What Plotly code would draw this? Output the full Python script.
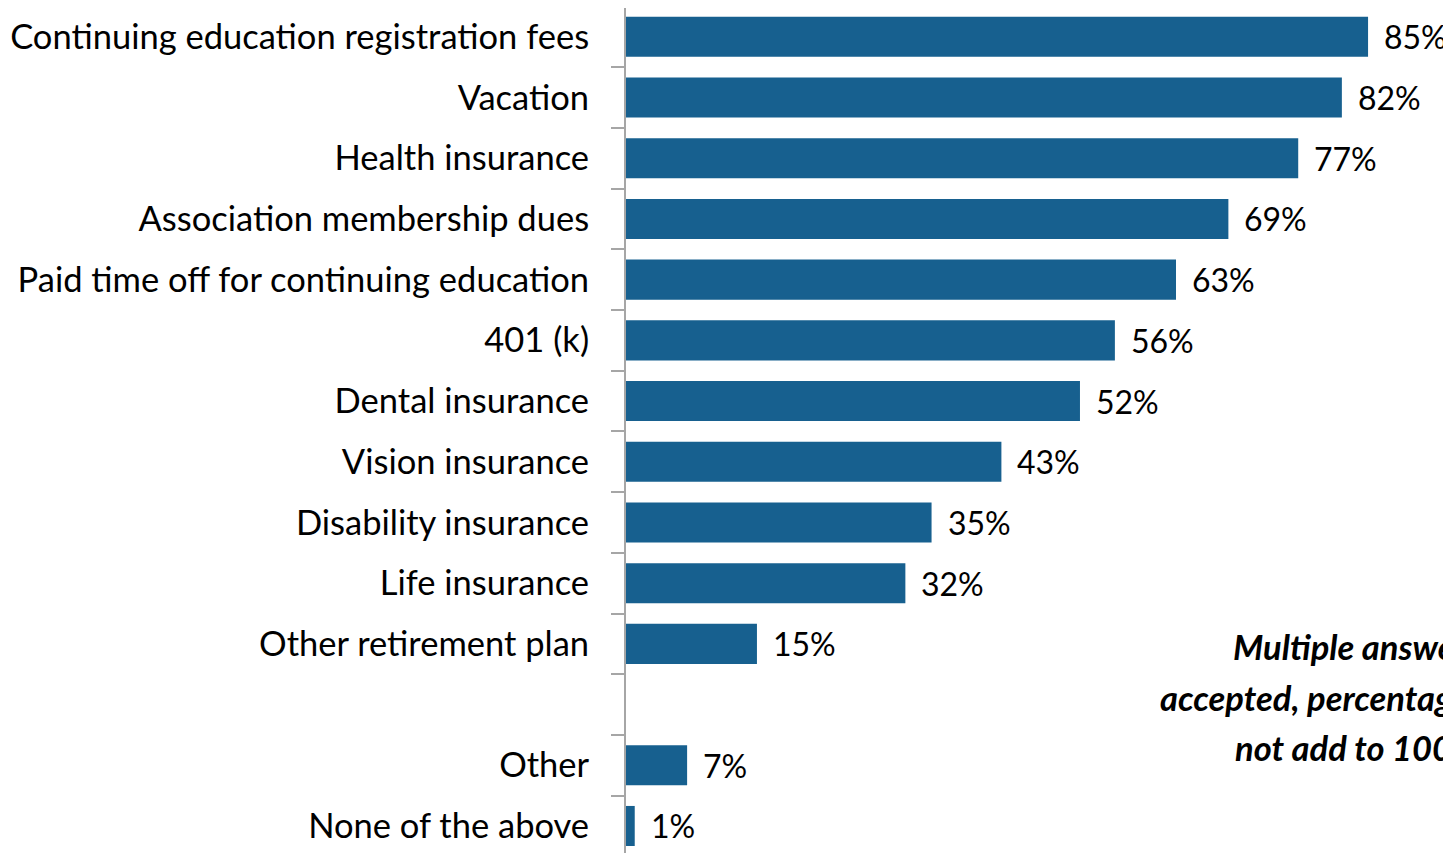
import plotly.graph_objects as go

categories = [
    "Continuing education registration fees",
    "Vacation",
    "Health insurance",
    "Association membership dues",
    "Paid time off for continuing education",
    "401 (k)",
    "Dental insurance",
    "Vision insurance",
    "Disability insurance",
    "Life insurance",
    "Other retirement plan",
    " ",
    "Other",
    "None of the above",
]
values = [85, 82, 77, 69, 63, 56, 52, 43, 35, 32, 15, None, 7, 1]
value_labels = ["85%", "82%", "77%", "69%", "63%", "56%", "52%", "43%", "35%", "32%", "15%", "", "7%", "1%"]
note_lines = ["Multiple answers", "accepted, percentages may", "not add to 100%"]
note_y = [0.2438, 0.1846, 0.1254]

FONT = "Lato"
BAR = "#17608F"

fig = go.Figure()
fig.add_trace(go.Bar(
    x=values, y=categories, orientation="h",
    marker=dict(color=BAR, line=dict(width=0)),
    hoverinfo="skip",
))

for c, v, t in zip(categories, values, value_labels):
    if v is None:
        continue
    fig.add_annotation(x=v, y=c, text=t, xref="x", yref="y", xanchor="left",
                       yanchor="middle", showarrow=False, xshift=14,
                       font=dict(family=FONT, size=32, color="#000000"))

for line, yy in zip(note_lines, note_y):
    fig.add_annotation(x=0.886, y=yy, xref="paper", yref="paper", text=line,
                       showarrow=False, xanchor="center", yanchor="middle", align="center",
                       font=dict(family=FONT, size=34.5, color="#000000", style="italic", weight="bold"))

fig.update_layout(
    width=1443, height=845,
    margin=dict(l=618, r=0, t=0, b=0, autoexpand=False),
    paper_bgcolor="white", plot_bgcolor="white",
    bargap=0.34,
    showlegend=False,
    font=dict(family=FONT, size=34.5, color="#000000"),
)
fig.update_xaxes(range=[0, 94.5], visible=False, showgrid=False, zeroline=False)
fig.update_yaxes(
    type="category", range=[13.445, -0.475],
    showline=True, linecolor="#A6A6A6", linewidth=2,
    ticks="outside", tickson="boundaries", ticklen=13, tickcolor="#A6A6A6", tickwidth=2,
    ticklabelstandoff=28,
    showgrid=False, zeroline=False,
    tickfont=dict(family=FONT, size=34.5, color="#000000"),
)

fig.write_html("out.html")
